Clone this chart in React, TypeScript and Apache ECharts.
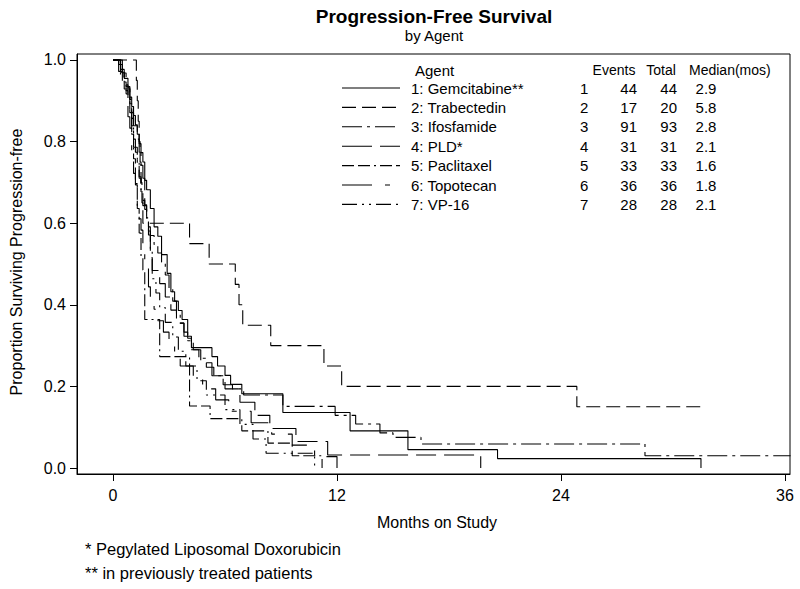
import React, { useEffect, useRef } from 'react';
import * as echarts from 'echarts';

const FONT = '"Liberation Sans", Arial, sans-serif';

const agentNames = ['1: Gemcitabine**', '2: Trabectedin', '3: Ifosfamide', '4: PLD*', '5: Paclitaxel', '6: Topotecan', '7: VP-16'];
const agentNums = ['1', '2', '3', '4', '5', '6', '7'];
const eventsCol = [44, 17, 91, 31, 33, 36, 28];
const totalCol = [44, 20, 93, 31, 33, 36, 28];
const medianCol = ['2.9', '5.8', '2.8', '2.1', '1.6', '1.8', '2.1'];

const xTicks = [0, 12, 24, 36];
const yTicks = [0, 0.2, 0.4, 0.6, 0.8, 1.0];

// Kaplan-Meier steps: time (months) and survival after the event
const gemT = [0, 0.4, 0.6, 0.8, 0.9, 1.0, 1.1, 1.2, 1.3, 1.4, 1.5, 1.6, 1.7, 1.8, 2.0, 2.2, 2.4, 2.6, 2.9, 3.1, 3.3, 3.5, 3.7, 4.0, 4.2, 5.3, 5.6, 6.0, 6.3, 6.9, 9.1, 12.7, 15.8, 20.6, 31.5];
const gemS = [1, 0.977, 0.955, 0.932, 0.909, 0.886, 0.864, 0.841, 0.818, 0.795, 0.773, 0.75, 0.705, 0.682, 0.636, 0.591, 0.568, 0.523, 0.477, 0.432, 0.409, 0.386, 0.364, 0.318, 0.295, 0.273, 0.25, 0.227, 0.205, 0.182, 0.136, 0.091, 0.045, 0.023, 0];

const trabT = [0, 1.25, 1.3, 1.35, 1.4, 1.45, 1.5, 1.55, 1.6, 4.1, 5.15, 6.55, 6.75, 6.95, 8.45, 11.3, 12.25, 24.85, 31.7];
const trabS = [1, 0.95, 0.9, 0.85, 0.8, 0.75, 0.7, 0.65, 0.6, 0.55, 0.5, 0.45, 0.4, 0.35, 0.3, 0.25, 0.2, 0.15, 0.15];

const ifosT = [0, 0.3, 0.5, 0.6, 0.7, 0.8, 0.9, 1.0, 1.1, 1.2, 1.3, 1.4, 1.5, 1.6, 1.7, 1.8, 1.9, 2.0, 2.2, 2.4, 2.6, 2.8, 3.0, 3.2, 3.4, 3.6, 3.8, 4.0, 4.3, 4.6, 5.0, 5.4, 5.9, 6.4, 7.0, 9.1, 11.9, 13.0, 14.3, 15.0, 16.5, 28.5, 36.3];
const ifosS = [1, 0.989, 0.968, 0.946, 0.925, 0.903, 0.871, 0.839, 0.806, 0.774, 0.742, 0.71, 0.677, 0.656, 0.634, 0.613, 0.591, 0.57, 0.548, 0.527, 0.505, 0.473, 0.441, 0.409, 0.376, 0.355, 0.333, 0.312, 0.29, 0.269, 0.247, 0.226, 0.204, 0.194, 0.179, 0.151, 0.129, 0.108, 0.086, 0.075, 0.059, 0.03, 0.03];

const pldT = [0, 0.5, 0.7, 0.9, 1.0, 1.1, 1.3, 1.4, 1.5, 1.6, 1.7, 1.8, 1.9, 2.0, 2.1, 2.5, 2.8, 3.1, 3.4, 3.8, 4.2, 4.7, 5.3, 6.0, 6.8, 7.6, 8.4, 9.8, 11.5, 19.7];
const pldS = [1, 0.968, 0.935, 0.903, 0.871, 0.839, 0.806, 0.774, 0.742, 0.71, 0.645, 0.613, 0.581, 0.516, 0.484, 0.452, 0.419, 0.387, 0.355, 0.323, 0.29, 0.258, 0.226, 0.194, 0.161, 0.129, 0.097, 0.065, 0.032, 0];

const pacT = [0, 0.4, 0.6, 0.8, 0.9, 1.0, 1.1, 1.2, 1.3, 1.4, 1.5, 1.6, 1.7, 2.5, 4.1, 5.2, 6.9, 8.3, 9.6, 11.2];
const pacS = [1, 0.97, 0.939, 0.909, 0.879, 0.818, 0.758, 0.697, 0.636, 0.576, 0.515, 0.485, 0.364, 0.273, 0.152, 0.121, 0.091, 0.061, 0.03, 0];

const topoT = [0, 0.3, 0.5, 0.7, 0.8, 0.9, 1.0, 1.1, 1.2, 1.3, 1.4, 1.5, 1.6, 1.7, 1.9, 2.0, 2.2, 2.4, 2.7, 3.0, 3.3, 3.6, 4.3, 4.8, 5.5, 6.2, 7.4, 8.5, 9.6, 10.8, 12.0];
const topoS = [1, 0.972, 0.944, 0.917, 0.861, 0.833, 0.778, 0.722, 0.694, 0.639, 0.611, 0.583, 0.528, 0.5, 0.444, 0.417, 0.389, 0.361, 0.333, 0.306, 0.278, 0.25, 0.222, 0.194, 0.167, 0.139, 0.111, 0.083, 0.056, 0.028, 0];

const vpT = [0, 0.4, 0.6, 0.9, 1.0, 1.1, 1.3, 1.4, 1.5, 1.6, 1.8, 1.9, 2.0, 2.1, 2.3, 2.5, 2.8, 3.2, 3.5, 3.9, 4.5, 5.0, 6.0, 6.8, 7.5, 8.2, 10.8];
const vpS = [1, 0.964, 0.929, 0.893, 0.857, 0.786, 0.75, 0.714, 0.679, 0.643, 0.607, 0.571, 0.536, 0.464, 0.429, 0.393, 0.357, 0.321, 0.286, 0.25, 0.214, 0.179, 0.143, 0.107, 0.071, 0.036, 0];

const dashes: (number[] | 'solid')[] = [
  'solid',
  [14, 6],
  [20, 5, 3, 5],
  [30, 8, 20, 8],
  [12, 4, 12, 4, 2, 4],
  [30, 13, 5, 13],
  [15, 5, 2, 5, 2, 5],
];

const curveT = [gemT, trabT, ifosT, pldT, pacT, topoT, vpT];
const curveS = [gemS, trabS, ifosS, pldS, pacS, topoS, vpS];

function txt(text: string, x: number, y: number, size: number, align = 'left', bold = false) {
  return {
    type: 'text',
    x,
    y,
    silent: true,
    style: {
      text,
      fill: '#000',
      font: `${bold ? 'bold ' : ''}${size}px ${FONT}`,
      align,
      verticalAlign: 'middle',
    },
  };
}

export default function App() {
  const ref = useRef<HTMLDivElement>(null);
  useEffect(() => {
    document.body.style.margin = '0';
    const chart = echarts.init(ref.current!, null, { renderer: 'svg' });

    const series = curveT.map((ts, i) => ({
      type: 'line',
      name: agentNames[i],
      step: 'end',
      showSymbol: false,
      symbol: 'none',
      clip: true,
      data: ts.map((t, j) => [t, curveS[i][j]]),
      lineStyle: { color: '#000', width: 1.1, type: dashes[i] },
      silent: true,
    }));

    const graphics: any[] = [];
    graphics.push(txt('Progression-Free Survival', 434, 16, 19, 'center', true));
    graphics.push(txt('by Agent', 434, 35, 15, 'center'));
    graphics.push({ ...txt('Proportion Surviving Progression-free', 16, 262, 16, 'center'), rotation: Math.PI / 2 });
    graphics.push(txt('Months on Study', 437, 522, 16, 'center'));
    graphics.push(txt('* Pegylated Liposomal Doxorubicin', 85, 549, 16.5, 'left'));
    graphics.push(txt('** in previously treated patients', 85, 573, 16.5, 'left'));

    const ls = 15;
    const hs = 14;
    graphics.push(txt('Agent', 415, 70, ls));
    graphics.push(txt('Events', 614, 70, hs, 'center'));
    graphics.push(txt('Total', 661, 70, hs, 'center'));
    graphics.push(txt('Median(mos)', 689, 70, hs, 'left'));
    agentNames.forEach((n, i) => {
      const y = 88 + i * 19.4;
      graphics.push({
        type: 'line',
        silent: true,
        shape: { x1: 342, y1: y, x2: 400, y2: y },
        style: { stroke: '#000', lineWidth: 1.1, lineDash: dashes[i] === 'solid' ? null : dashes[i] },
      });
      graphics.push(txt(n, 411, y, ls));
      graphics.push(txt(agentNums[i], 580, y, ls));
      graphics.push(txt(String(eventsCol[i]), 637, y, ls, 'right'));
      graphics.push(txt(String(totalCol[i]), 677, y, ls, 'right'));
      graphics.push(txt(medianCol[i], 706, y, ls, 'center'));
    });

    chart.setOption({
      animation: false,
      backgroundColor: '#fff',
      grid: {
        left: 77,
        right: 10,
        top: 54,
        bottom: 115,
        show: true,
        borderColor: '#000',
        borderWidth: 1,
        containLabel: false,
      },
      xAxis: {
        type: 'value',
        min: -1.93,
        max: 36.27,
        axisLine: { show: true, onZero: false, lineStyle: { color: '#000' } },
        axisTick: { show: true, length: 7, customValues: xTicks, lineStyle: { color: '#000' } },
        axisLabel: { customValues: xTicks, color: '#000', fontSize: 16, fontFamily: FONT, margin: 13 },
        splitLine: { show: false },
      },
      yAxis: {
        type: 'value',
        min: -0.0147,
        max: 1.0147,
        axisLine: { show: true, onZero: false, lineStyle: { color: '#000' } },
        axisTick: { show: true, length: 7, customValues: yTicks, lineStyle: { color: '#000' } },
        axisLabel: {
          customValues: yTicks,
          color: '#000',
          fontSize: 16,
          fontFamily: FONT,
          margin: 11,
          formatter: (v: number) => v.toFixed(1),
        },
        splitLine: { show: false },
      },
      series,
      graphic: graphics,
    });
    return () => chart.dispose();
  }, []);
  return <div ref={ref} style={{ width: 800, height: 589 }} />;
}
